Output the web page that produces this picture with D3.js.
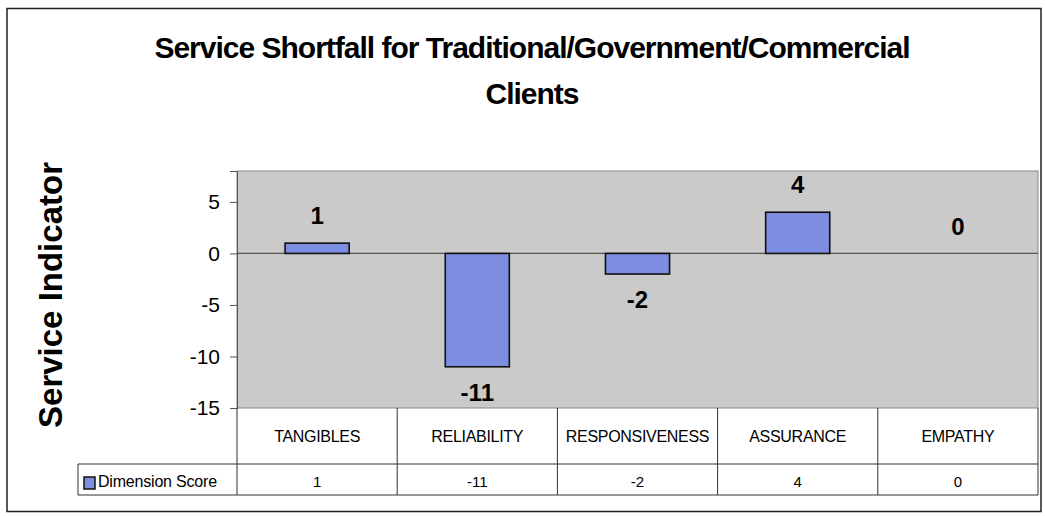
<!DOCTYPE html>
<html><head><meta charset="utf-8">
<script src="https://cdn.jsdelivr.net/npm/d3@7"></script>
<style>body{margin:0;background:#fff}svg{display:block}</style>
</head><body>
<svg id="c" width="1045" height="516"></svg>
<script>
const categories = ["TANGIBLES","RELIABILITY","RESPONSIVENESS","ASSURANCE","EMPATHY"];
const tableLabels = ["TANGIBLES","RELIABILITY","RESPONSIVENESS","ASSURANCE","EMPATHY"];
const values = [1,-11,-2,4,0];
const seriesName = "Dimension Score";
const yTicks = [5,0,-5,-10,-15];
const titleLines = ["Service Shortfall for Traditional/Government/Commercial","Clients"];
const yTitle = "Service Indicator";

const FONT = "Liberation Sans, Arial, sans-serif";
const svg = d3.select("#c");
const L=237, R=1038, T=171, B=408;
const x = d3.scaleBand().domain(categories).range([L,R]).paddingInner(0.6).paddingOuter(0.3);
const xb = d3.scaleBand().domain(categories).range([L,R]);
const y = d3.scaleLinear().domain([-15,8]).range([B,T]);

// outer frame
svg.append("rect").attr("x",7).attr("y",8.5).attr("width",1034).attr("height",503)
  .attr("fill","#fff").attr("stroke","#222").attr("stroke-width",1.5);

// title
svg.selectAll("text.title").data(titleLines).join("text").attr("class","title")
  .attr("x",532).attr("y",(d,i)=>58+i*46).attr("text-anchor","middle")
  .attr("font-family",FONT).attr("font-weight","bold")
  .attr("font-size",30).attr("letter-spacing","-1px").attr("fill","#000").text(d=>d);

// y title
svg.append("text").attr("transform","translate(62,295) rotate(-90)").attr("text-anchor","middle")
  .attr("font-family",FONT).attr("font-weight","bold")
  .attr("font-size",33).text(yTitle);

// plot area
svg.append("rect").attr("x",L).attr("y",T).attr("width",R-L).attr("height",B-T)
  .attr("fill","#cacaca").attr("stroke","#888").attr("stroke-width",1);

// y axis
const ya = svg.append("g").attr("transform",`translate(${L},0)`)
  .call(d3.axisLeft(y).tickValues(yTicks).tickFormat(d=>String(d)).tickSize(7).tickPadding(10));
ya.select(".domain").attr("stroke","#555");
ya.selectAll(".tick line").attr("stroke","#555");
ya.selectAll("text").attr("font-family",FONT).attr("font-size",21).attr("fill","#000");

// zero line
svg.append("line").attr("x1",L).attr("x2",R).attr("y1",y(0)).attr("y2",y(0))
  .attr("stroke","#555").attr("stroke-width",1.2);

const rows = values.map((v,i)=>({c:categories[i],v}));

// bars
svg.selectAll("rect.bar").data(rows.filter(d=>d.v!==0)).join("rect").attr("class","bar")
  .attr("x",d=>x(d.c)).attr("width",x.bandwidth())
  .attr("y",d=>y(Math.max(0,d.v))).attr("height",d=>Math.abs(y(d.v)-y(0)))
  .attr("fill","#7d8de0").attr("stroke","#111").attr("stroke-width",1.6);

// data labels
svg.selectAll("text.lbl").data(rows).join("text").attr("class","lbl")
  .attr("x",d=>xb(d.c)+xb.bandwidth()/2)
  .attr("y",d=>d.v>0? y(d.v)-19 : d.v<0 ? y(d.v)+34 : y(0)-18)
  .attr("text-anchor","middle").attr("font-family",FONT)
  .attr("font-size",24).attr("font-weight","bold").text(d=>d.v);

// table
const rowTop=B, rowMid=464, rowBot=495, legL=78;
const tg = svg.append("g").attr("stroke","#333").attr("stroke-width",1).attr("fill","none");
tg.append("line").attr("x1",legL).attr("x2",R).attr("y1",rowMid).attr("y2",rowMid);
tg.append("line").attr("x1",legL).attr("x2",R).attr("y1",rowBot).attr("y2",rowBot);
tg.append("line").attr("x1",legL).attr("x2",legL).attr("y1",rowMid).attr("y2",rowBot);
tg.selectAll("line.v").data(categories.concat(["__end"])).join("line").attr("class","v")
  .attr("x1",(d,i)=>i<categories.length?xb(d):R).attr("x2",(d,i)=>i<categories.length?xb(d):R)
  .attr("y1",rowTop).attr("y2",rowBot);

svg.selectAll("text.cat").data(categories).join("text").attr("class","cat")
  .attr("x",d=>xb(d)+xb.bandwidth()/2).attr("y",442).attr("text-anchor","middle")
  .attr("font-family",FONT).attr("font-size",16).attr("letter-spacing","-0.3px")
  .text((d,i)=>tableLabels[i]);
svg.selectAll("text.val").data(rows).join("text").attr("class","val")
  .attr("x",d=>xb(d.c)+xb.bandwidth()/2).attr("y",487).attr("text-anchor","middle")
  .attr("font-family",FONT).attr("font-size",15).text(d=>d.v);

// legend
svg.append("rect").attr("x",84).attr("y",477).attr("width",11).attr("height",12)
  .attr("fill","#7d8de0").attr("stroke","#111").attr("stroke-width",1.5);
svg.append("text").attr("x",98).attr("y",487).attr("font-family",FONT)
  .attr("font-size",16).attr("letter-spacing","-0.2px").text(seriesName);
</script>
</body></html>
